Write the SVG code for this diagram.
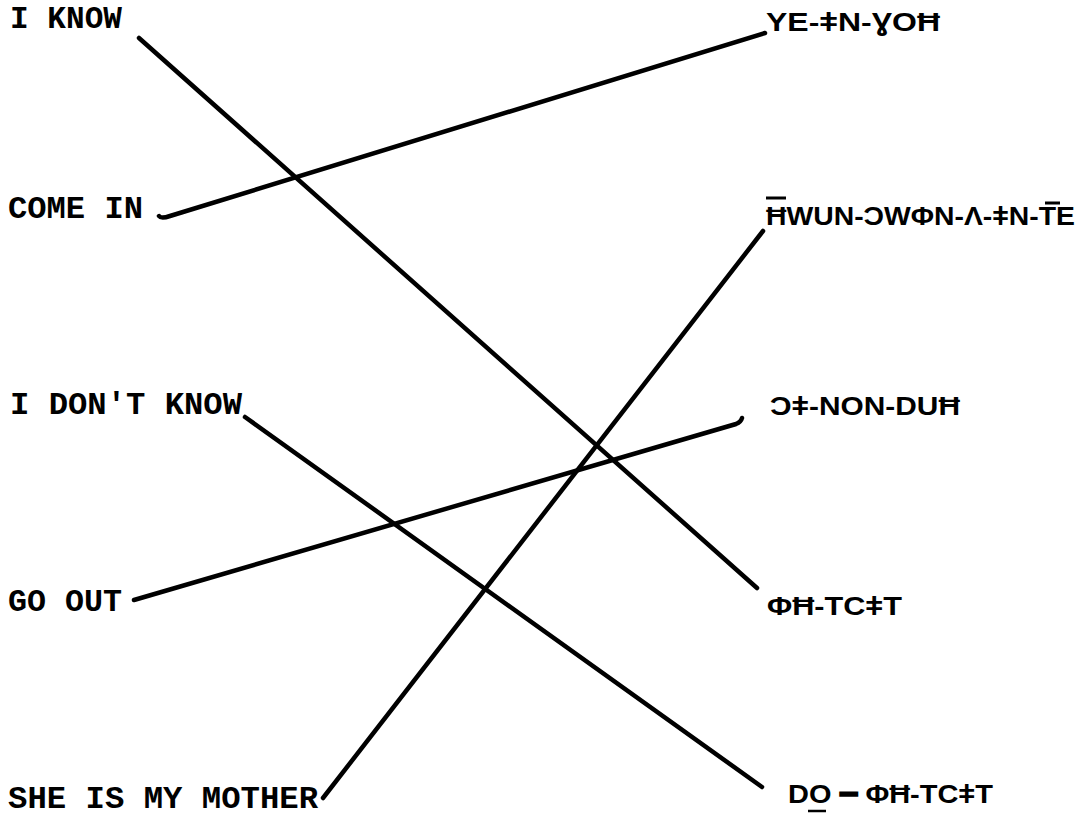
<svg xmlns="http://www.w3.org/2000/svg" width="1086" height="824" viewBox="0 0 1086 824">
<style>
.l{font-family:"Liberation Mono","Courier New",monospace;font-weight:bold;font-size:32px;fill:#000}
.r{font-family:"Liberation Sans",Arial,sans-serif;font-weight:bold;font-size:26px;fill:#000}
.c{stroke:#000;stroke-width:4.5;fill:none;stroke-linecap:round}
</style>
<rect width="1086" height="824" fill="#fff"/>
<g id="left-i-know"><text class="l" x="10" y="28" textLength="112" lengthAdjust="spacingAndGlyphs">I KNOW</text></g>
<g id="left-come-in"><text class="l" x="8" y="218" textLength="135" lengthAdjust="spacingAndGlyphs">COME IN</text></g>
<g id="left-i-dont-know"><text class="l" x="10" y="414" textLength="232" lengthAdjust="spacingAndGlyphs">I DON'T KNOW</text></g>
<g id="left-go-out"><text class="l" x="8" y="611" textLength="114" lengthAdjust="spacingAndGlyphs">GO OUT</text></g>
<g id="left-she-is-my-mother"><text class="l" x="8" y="808" textLength="310" lengthAdjust="spacingAndGlyphs">SHE IS MY MOTHER</text></g>
<g id="right-1"><text class="r" x="766" y="31" textLength="174" lengthAdjust="spacingAndGlyphs">YE-ǂN-ƔOĦ</text></g>
<g id="right-2"><text class="r" x="766" y="225" textLength="309" lengthAdjust="spacingAndGlyphs">ĦWUN-ƆWΦN-Λ-ǂN-TE</text><line x1="766" y1="198" x2="786" y2="198" stroke="#000" stroke-width="3"/><line x1="1045" y1="203" x2="1060" y2="203" stroke="#000" stroke-width="3"/></g>
<g id="right-3"><text class="r" x="770" y="415" textLength="190" lengthAdjust="spacingAndGlyphs">Ɔǂ-NON-DUĦ</text></g>
<g id="right-4"><text class="r" x="767" y="615" textLength="135" lengthAdjust="spacingAndGlyphs">ΦĦ-TCǂT</text></g>
<g id="right-5"><text class="r" x="788" y="803" textLength="205" lengthAdjust="spacingAndGlyphs">DO ━ ΦĦ-TCǂT</text><line x1="808" y1="811" x2="826" y2="811" stroke="#000" stroke-width="2.5"/></g>
<g id="connectors">
<line class="c" x1="139" y1="38" x2="757" y2="588"/>
<path class="c" d="M159 216 Q161 219 170 216 L765 33"/>
<line class="c" x1="245" y1="417" x2="762" y2="787"/>
<path class="c" d="M134 600 L736 424 Q741 422 742 418"/>
<line class="c" x1="323" y1="798" x2="763" y2="231"/>
</g>
</svg>
